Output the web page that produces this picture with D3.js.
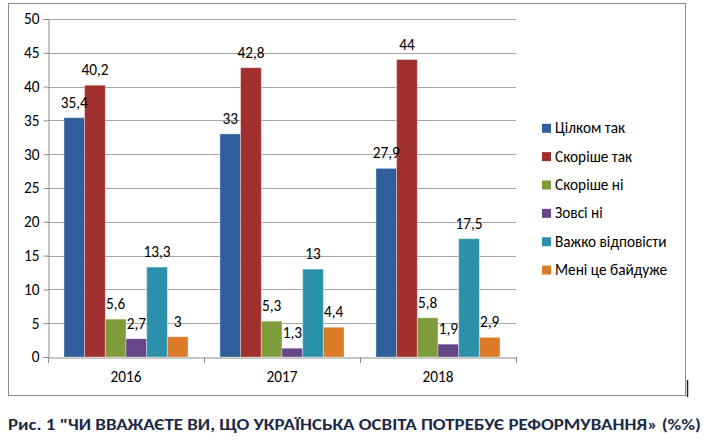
<!DOCTYPE html>
<html>
<head>
<meta charset="utf-8">
<script src="https://cdn.jsdelivr.net/npm/d3@7"></script>
<style>
  body { margin: 0; background: #fff; }
  text { font-family: Carlito, Calibri, Lato, "Open Sans", sans-serif; }
</style>
</head>
<body>
<div id="chart"></div>
<script>
// chart data
const years = ["2016", "2017", "2018"];
const seriesNames = ["Цілком так", "Скоріше так", "Скоріше ні", "Зовсі ні", "Важко відповісти", "Мені це байдуже"];
const seriesColors = ["#2E5F9B", "#A02F2D", "#7F9C3A", "#654689", "#2B91AA", "#DB7B2A"];
const values2016 = [35.4, 40.2, 5.6, 2.7, 13.3, 3];
const values2017 = [33, 42.8, 5.3, 1.3, 13, 4.4];
const values2018 = [27.9, 44, 5.8, 1.9, 17.5, 2.9];
const yTicks = [0, 5, 10, 15, 20, 25, 30, 35, 40, 45, 50];
const title = "Рис. 1 \"ЧИ  ВВАЖАЄТЕ ВИ, ЩО УКРАЇНСЬКА ОСВІТА ПОТРЕБУЄ РЕФОРМУВАННЯ» (%%)";

const W = 709, H = 448;
const plot = {left: 48, right: 516, top: 19, bottom: 357};
const fontSize = "15.3px";

const rows = [values2016, values2017, values2018];
const data = years.map((y, i) => ({year: y, values: rows[i]}));

const svg = d3.select("#chart").append("svg")
    .attr("width", W)
    .attr("height", H);

// outer frame
svg.append("rect")
    .attr("x", 8.5).attr("y", 3.5)
    .attr("width", 677).attr("height", 392)
    .attr("fill", "none")
    .attr("stroke", "#8c8c8c");
svg.append("line")
    .attr("x1", 687.5).attr("x2", 687.5)
    .attr("y1", 380).attr("y2", 397)
    .attr("stroke", "#222").attr("stroke-width", 1.5);

const x0 = d3.scaleBand()
    .domain(years)
    .range([plot.left, plot.right]);

const x1 = d3.scaleBand()
    .domain(d3.range(seriesNames.length))
    .range([0, x0.bandwidth()])
    .paddingInner(0)
    .paddingOuter(0.77);

const y = d3.scaleLinear()
    .domain([0, 50])
    .range([plot.bottom, plot.top]);

// gridlines
svg.append("g")
    .selectAll("line")
    .data(yTicks.filter(d => d > 0))
    .join("line")
    .attr("x1", plot.left).attr("x2", plot.right)
    .attr("y1", d => Math.round(y(d)) + 0.5)
    .attr("y2", d => Math.round(y(d)) + 0.5)
    .attr("stroke", "#a6a6a6");

// y axis
const yAxis = svg.append("g")
    .attr("transform", `translate(${plot.left + 0.5},0)`)
    .call(d3.axisLeft(y).tickValues(yTicks).tickSize(5).tickPadding(4));
yAxis.select(".domain").attr("stroke", "#8c8c8c");
yAxis.selectAll(".tick line").attr("stroke", "#8c8c8c");
yAxis.selectAll(".tick text")
    .attr("fill", "#000")
    .style("font-size", fontSize)
    .style("font-family", "Carlito, Calibri, Lato, sans-serif");

// x axis
const xAxis = svg.append("g")
    .attr("transform", `translate(0,${plot.bottom + 0.5})`)
    .call(d3.axisBottom(x0).tickSize(0).tickPadding(14));
xAxis.select(".domain").attr("stroke", "#8c8c8c");
xAxis.selectAll(".tick text")
    .attr("fill", "#000")
    .style("font-size", fontSize)
    .style("font-family", "Carlito, Calibri, Lato, sans-serif");
// category separators
svg.append("g")
    .selectAll("line")
    .data(years.map(d => x0(d)).concat([plot.right]))
    .join("line")
    .attr("x1", d => Math.round(d) + 0.5).attr("x2", d => Math.round(d) + 0.5)
    .attr("y1", plot.bottom).attr("y2", plot.bottom + 6)
    .attr("stroke", "#8c8c8c");

// bars
const groups = svg.append("g")
    .selectAll("g")
    .data(data)
    .join("g")
    .attr("transform", d => `translate(${x0(d.year)},0)`);

groups.selectAll("rect")
    .data(d => d.values.map((v, i) => ({i, v})))
    .join("rect")
    .attr("x", d => x1(d.i))
    .attr("y", d => y(d.v))
    .attr("width", x1.bandwidth())
    .attr("height", d => y(0) - y(d.v))
    .attr("fill", d => seriesColors[d.i])
    .attr("stroke", "rgba(255,255,255,0.35)")
    .attr("stroke-width", 1);

groups.selectAll("text")
    .data(d => d.values.map((v, i) => ({i, v})))
    .join("text")
    .attr("x", d => x1(d.i) + x1.bandwidth() / 2)
    .attr("y", d => y(d.v) - 10)
    .attr("text-anchor", "middle")
    .style("font-size", fontSize)
    .attr("fill", "#000")
    .text(d => String(d.v).replace(".", ","));

// legend
const legend = svg.append("g")
    .selectAll("g")
    .data(seriesNames)
    .join("g")
    .attr("transform", (d, i) => `translate(542,${128.3 + i * 28.35})`);
legend.append("rect")
    .attr("x", 0).attr("y", -4.5)
    .attr("width", 9).attr("height", 9)
    .attr("fill", (d, i) => seriesColors[i]);
legend.append("text")
    .attr("x", 13)
    .attr("y", 5)
    .style("font-size", fontSize)
    .attr("fill", "#000")
    .text(d => d);

// caption
svg.append("text")
    .attr("x", 8)
    .attr("y", 430)
    .attr("textLength", 693)
    .attr("lengthAdjust", "spacingAndGlyphs")
    .style("font-size", "16px")
    .style("font-weight", "bold")
    .attr("fill", "#1c2a48")
    .text(title);
</script>
</body>
</html>
